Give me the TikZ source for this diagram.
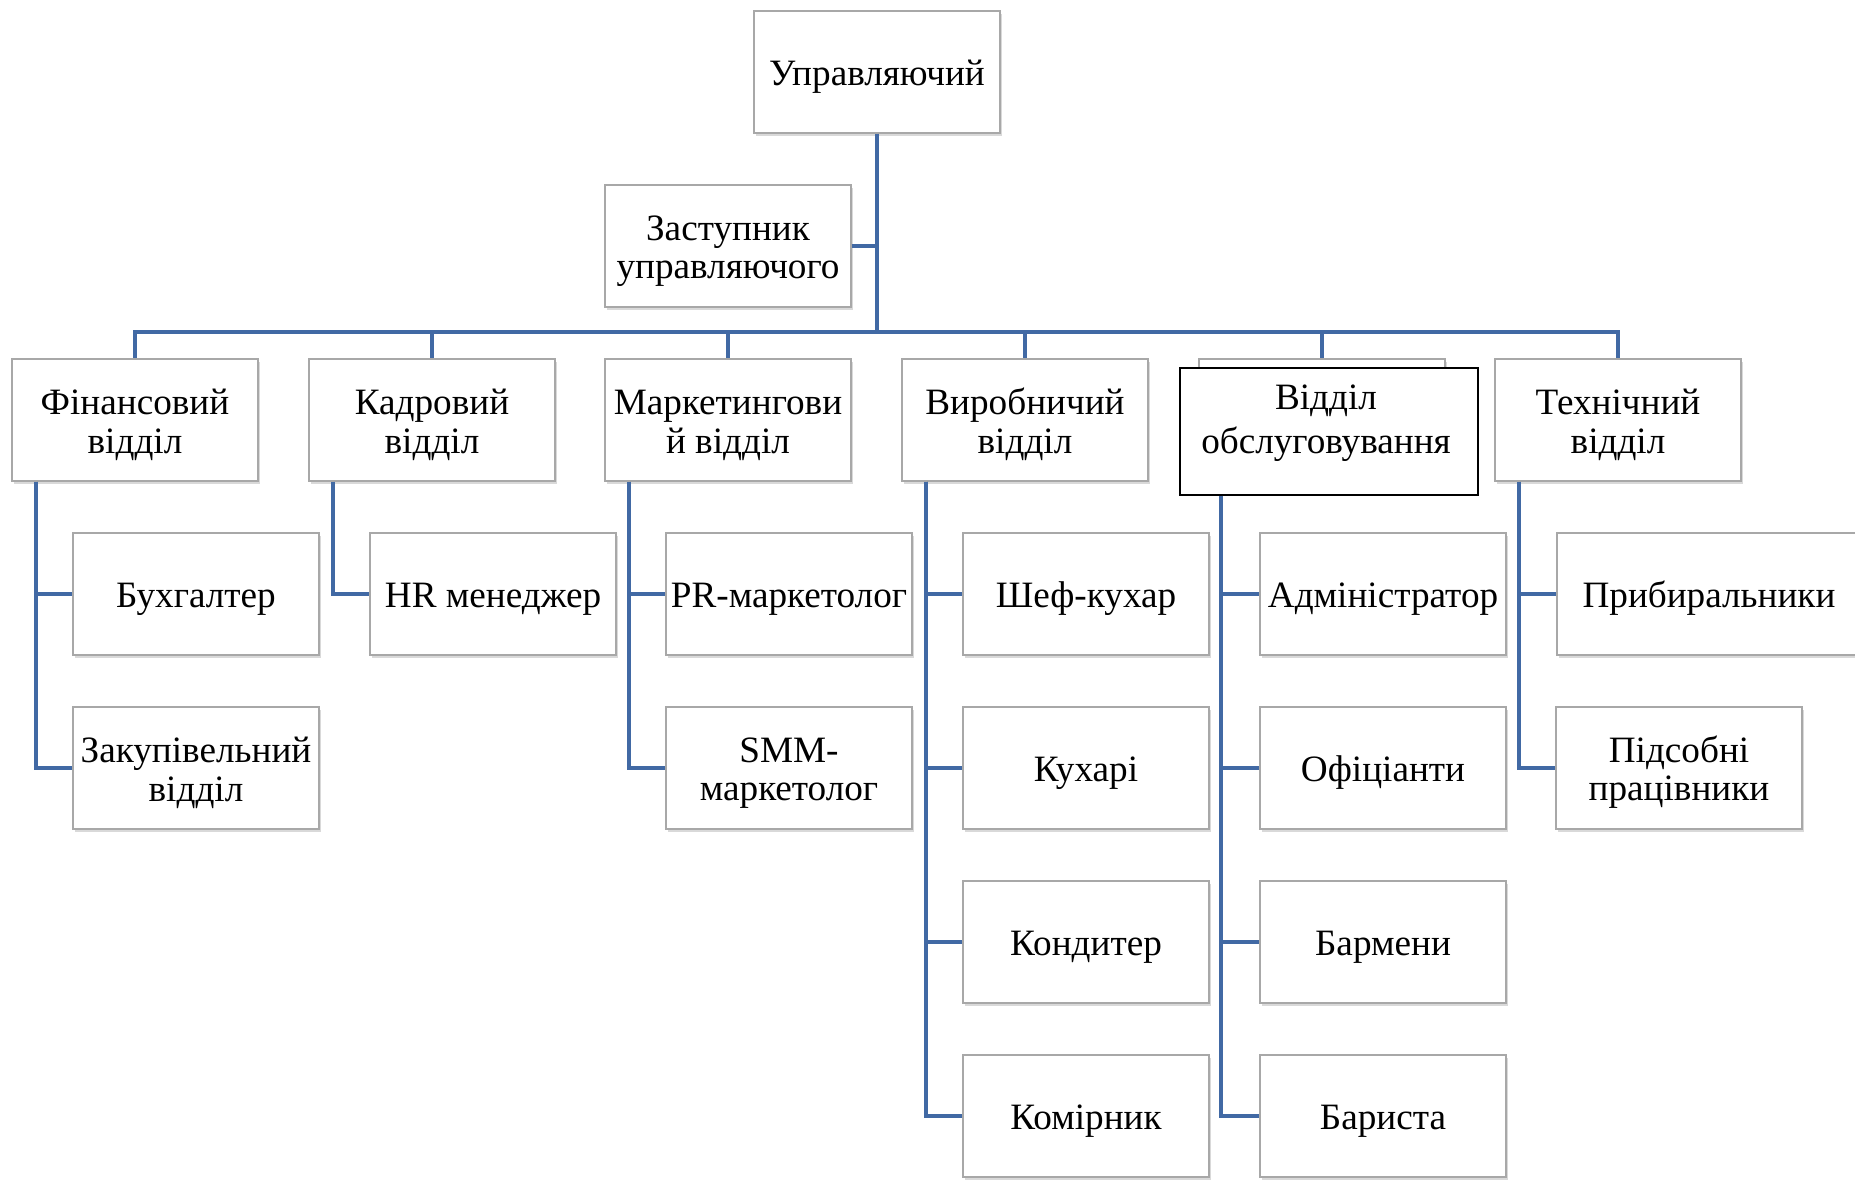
\documentclass[tikz,border=0pt]{standalone}
\usepackage{fontspec}
\setmainfont{Liberation Serif}
\usetikzlibrary{positioning, calc, shadows}
\definecolor{linkblue}{HTML}{4169A4}
\definecolor{boxgray}{HTML}{A8A8A8}

\tikzset{
  unit/.style={draw=boxgray, line width=0.6pt, fill=white, align=center,
    minimum width=123pt, minimum height=61pt, inner sep=2pt,
    font=\fontsize{18.6}{19.4}\selectfont,
    execute at begin node={\vrule width 0pt height #1\relax},
    drop shadow={shadow xshift=1.2pt, shadow yshift=-1.6pt, opacity=0.3}},
  unit/.default=17.5pt,
  unit2/.style={unit=36.9pt},
  link/.style={draw=linkblue, line width=2pt},
}

\begin{document}
\begin{tikzpicture}[x=0.5pt, y=-0.5pt]
  \useasboundingbox (0,0) rectangle (1855,1180);
  % head
  \node[unit] (upr) at (877,72) {Управляючий};
  \node[unit2] (zast) at (728,246) {Заступник\\управляючого};
  % departments
  \node[unit2] (fin) at (135,420) {Фінансовий\\відділ};
  \node[unit2] (kadr) at (432,420) {Кадровий\\відділ};
  \node[unit2] (mark) at (728,420) {Маркетингови\\й відділ};
  \node[unit2] (vyr) at (1025,420) {Виробничий\\відділ};
  \node[unit] (obslback) at (1322,420) {};
  \node[unit2] (tech) at (1618,420) {Технічний\\відділ};
  \node[draw=black, fill=white, line width=0.8pt, minimum width=149pt,
        minimum height=63.5pt] (obsl) at (1329,431.5) {};
  \node[align=center, font=\fontsize{18.6}{22.3}\selectfont] (obsltxt)
       at (1326,423) {Відділ\\обслуговування};
  % staff
  \node[unit] (buh) at (196,594) {Бухгалтер};
  \node[unit2] (zakup) at (196,768) {Закупівельний\\відділ};
  \node[unit] (hr) at (493,594) {HR менеджер};
  \node[unit] (pr) at (789,594) {PR-маркетолог};
  \node[unit2] (smm) at (789,768) {SMM-\\маркетолог};
  \node[unit] (shef) at (1086,594) {Шеф-кухар};
  \node[unit] (kuh) at (1086,768) {Кухарі};
  \node[unit] (kond) at (1086,942) {Кондитер};
  \node[unit] (komir) at (1086,1116) {Комірник};
  \node[unit] (adm) at (1383,594) {Адміністратор};
  \node[unit] (ofic) at (1383,768) {Офіціанти};
  \node[unit] (barm) at (1383,942) {Бармени};
  \node[unit] (baris) at (1383,1116) {Бариста};
  \node[unit, minimum width=152pt] (prib) at (1709,594) {Прибиральники};
  \node[unit2] (pids) at (1679,768) {Підсобні\\працівники};
  % connectors
  \coordinate (bus) at (877,332);
  \draw[link] (upr.south) -- (bus);
  \draw[link] (zast.east) -- (zast.east -| upr.south);
  \foreach \d in {fin,kadr,mark,vyr,obslback,tech}
    \draw[link] (bus) -| (\d.north);
  \foreach \p/\c in {fin/buh, fin/zakup, kadr/hr, mark/pr, mark/smm,
                     vyr/shef, vyr/kuh, vyr/kond, vyr/komir,
                     tech/prib, tech/pids}
    \draw[link] ($(\p.south west)+(25,0)$) |- (\c.west);
  \coordinate (obslroot) at ($(obslback.west |- obsl.south)+(23,0)$);
  \foreach \c in {adm,ofic,barm,baris}
    \draw[link] (obslroot) |- (\c.west);
\end{tikzpicture}
\end{document}
